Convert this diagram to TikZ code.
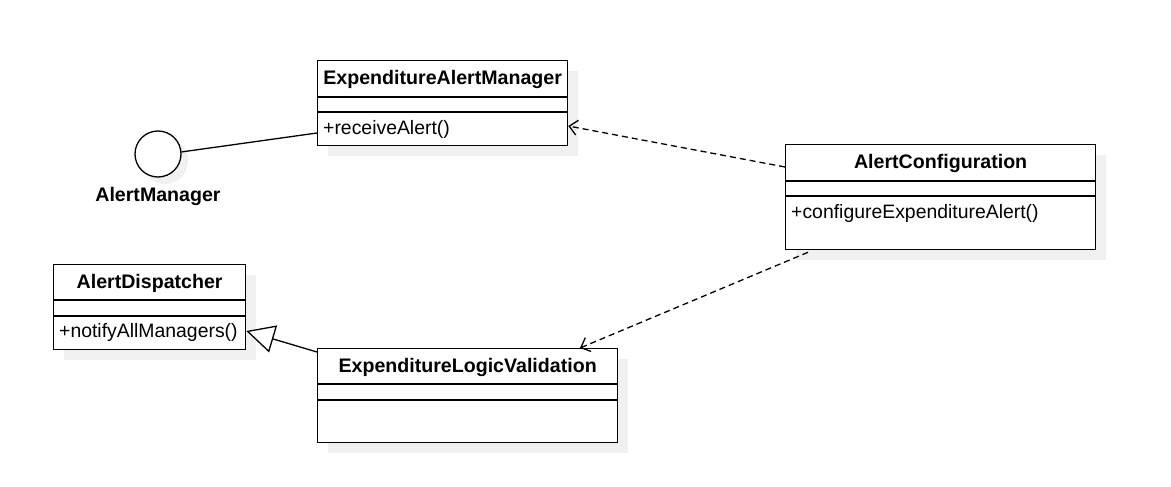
\documentclass[tikz,border=0pt]{standalone}
\usepackage{fontspec}
\setmainfont{Liberation Sans}
\usetikzlibrary{arrows.meta,calc}
\definecolor{shadowc}{HTML}{F0F0F0}
\begin{document}
\begin{tikzpicture}[x=1pt,y=-1pt,
  cls/.style={draw=black, line width=1.3pt, fill=white, anchor=north west, inner sep=0pt, rectangle},
  ttl/.style={font=\fontsize{19.6}{22}\selectfont\bfseries, inner sep=0pt},
  mth/.style={font=\fontsize{19.4}{22}\selectfont, anchor=west, inner sep=0pt},
  sep/.style={line width=1.3pt},
  conn/.style={line width=1.3pt},
  dep/.style={line width=1.3pt, dash pattern=on 6pt off 4pt, -{Straight Barb[length=8pt,width=15pt,line width=1.3pt]}},
  gen/.style={line width=1.3pt, -{Triangle[open, length=28pt, width=28pt, fill=white, line width=1.3pt]}},
]
\useasboundingbox (0,0) rectangle (1171,487);
\fill[white] (0,0) rectangle (1171,487);

% shadows
\fill[shadowc] (328,71) rectangle (578,156);
\fill[shadowc] (796,155) rectangle (1106,260);
\fill[shadowc] (64,275) rectangle (256,360);
\fill[shadowc] (328,359) rectangle (628,453);
\fill[shadowc] (165,161) circle (23);

% interface
\node[circle, draw=black, line width=1.3pt, fill=white, minimum size=46pt, inner sep=0pt] (am) at (158,154) {};
\node[font=\fontsize{19.6}{22}\selectfont\bfseries, inner sep=0pt] (amlbl) at (158,196) {AlertManager};

% ExpenditureAlertManager
\node[cls, minimum width=250pt, minimum height=85pt] (eam) at (317,60) {};
\draw[sep] ($(eam.north west)+(0,37)$) -- ($(eam.north east)+(0,37)$);
\draw[sep] ($(eam.north west)+(0,52)$) -- ($(eam.north east)+(0,52)$);
\node[ttl] (eamt) at ($(eam.north)+(0,19.5)$) {ExpenditureAlertManager};
\node[mth] (eamm) at ($(eam.north west)+(6,69)$) {+receiveAlert()};

% AlertConfiguration
\node[cls, minimum width=310pt, minimum height=105pt] (ac) at (785,144) {};
\draw[sep] ($(ac.north west)+(0,37)$) -- ($(ac.north east)+(0,37)$);
\draw[sep] ($(ac.north west)+(0,52)$) -- ($(ac.north east)+(0,52)$);
\node[ttl] (act) at ($(ac.north)+(0,19.5)$) {AlertConfiguration};
\node[mth] (acm) at ($(ac.north west)+(6,69)$) {+configureExpenditureAlert()};

% AlertDispatcher
\node[cls, minimum width=192pt, minimum height=85pt] (ad) at (53,264) {};
\draw[sep] ($(ad.north west)+(0,36)$) -- ($(ad.north east)+(0,36)$);
\draw[sep] ($(ad.north west)+(0,52)$) -- ($(ad.north east)+(0,52)$);
\node[ttl] (adt) at ($(ad.north)+(0,19.5)$) {AlertDispatcher};
\node[mth] (adm) at ($(ad.north west)+(6,68.5)$) {+notifyAllManagers()};

% ExpenditureLogicValidation
\node[cls, minimum width=300pt, minimum height=94pt] (elv) at (317,348) {};
\draw[sep] ($(elv.north west)+(0,36)$) -- ($(elv.north east)+(0,36)$);
\draw[sep] ($(elv.north west)+(0,52)$) -- ($(elv.north east)+(0,52)$);
\node[ttl] (elvt) at ($(elv.north)+(0,19.5)$) {ExpenditureLogicValidation};

% connectors
\draw[conn] (am.5) -- ($(eam.north west)+(0,73)$);
\draw[dep] ($(ac.north west)+(0,23)$) -- ($(eam.north east)+(0,66)$);
\draw[dep] ($(ac.south west)+(23,2)$) -- ($(elv.north west)+(263,0)$);
\draw[gen] ($(elv.north west)+(0,4)$) -- ($(ad.north east)+(0,67)$);
\end{tikzpicture}
\end{document}
